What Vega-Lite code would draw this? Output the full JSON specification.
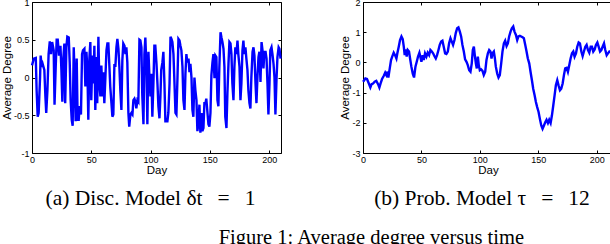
{
  "$schema": "https://vega.github.io/schema/vega-lite/v6.json",
  "background": "white",
  "padding": {"left": 0, "top": -3, "right": 0, "bottom": 0},
  "config": {
    "view": {"stroke": "black", "strokeWidth": 1},
    "font": "Liberation Sans",
    "axis": {
      "grid": false, "domain": false, "tickColor": "black", "tickSize": -3, "tickWidth": 1,
      "labelFont": "Liberation Sans", "labelFontSize": 9, "labelColor": "black",
      "titleFont": "Liberation Sans", "titleFontSize": 11.5, "titleFontWeight": "normal", "titleColor": "black",
      "labelFlush": false, "labelOverlap": false
    },
    "axisX": {"labelPadding": 5, "titlePadding": 0},
    "axisY": {"labelPadding": 6, "titlePadding": 1},
    "title": {"font": "Liberation Serif", "fontSize": 21.5, "fontWeight": "normal", "color": "black"},
    "concat": {"spacing": 53}
  },
  "title": {"text": "Figure 1: Average degree versus time", "orient": "bottom", "anchor": "middle", "offset": 18, "dx": 62, "fontSize": 20.5},
  "datasets": {
    "a": [
      {"day":0,"deg":0.16},{"day":1.5,"deg":0.25},{"day":3.2,"deg":0.26},{"day":3.9,"deg":-0.17},{"day":4.8,"deg":-0.52},{"day":5.6,"deg":-0.47},{"day":6.8,"deg":0},{"day":7.3,"deg":0.29},{"day":8.2,"deg":0.14},{"day":9,"deg":0.18},{"day":10.4,"deg":0.1},{"day":11.3,"deg":-0.25},{"day":12,"deg":-0.47},{"day":13,"deg":-0.17},{"day":14,"deg":0.31},{"day":15,"deg":0.48},{"day":16,"deg":0.31},{"day":17,"deg":0.47},{"day":18.3,"deg":0.36},{"day":19,"deg":-0.36},{"day":20,"deg":0.14},{"day":20.8,"deg":0.5},{"day":21.7,"deg":0.5},{"day":22.8,"deg":0.29},{"day":24,"deg":0.42},{"day":24.8,"deg":0.1},{"day":25.6,"deg":-0.32},{"day":26.4,"deg":0.25},{"day":27.3,"deg":0.45},{"day":28,"deg":-0.34},{"day":29,"deg":0.4},{"day":29.8,"deg":0.54},{"day":31,"deg":0.53},{"day":31.8,"deg":0.2},{"day":32.6,"deg":-0.3},{"day":33.5,"deg":-0.56},{"day":34.3,"deg":-0.64},{"day":35.2,"deg":0.4},{"day":36,"deg":0},{"day":36.8,"deg":-0.58},{"day":37.7,"deg":0.25},{"day":38.5,"deg":-0.56},{"day":39.4,"deg":-0.56},{"day":40.2,"deg":-0.38},{"day":41.3,"deg":-0.49},{"day":42.2,"deg":0.31},{"day":43,"deg":0.36},{"day":44.2,"deg":0.38},{"day":45,"deg":-0.12},{"day":45.9,"deg":0.34},{"day":46.7,"deg":0.12},{"day":47.5,"deg":-0.56},{"day":48.4,"deg":0.25},{"day":49.2,"deg":0.47},{"day":50,"deg":-0.3},{"day":51,"deg":0.29},{"day":51.8,"deg":-0.08},{"day":52.6,"deg":0.42},{"day":53.4,"deg":-0.43},{"day":54.3,"deg":0.27},{"day":55,"deg":-0.34},{"day":56,"deg":0.54},{"day":56.8,"deg":-0.08},{"day":57.7,"deg":-0.25},{"day":58.5,"deg":0.16},{"day":59.4,"deg":-0.25},{"day":60.2,"deg":0.07},{"day":61,"deg":-0.34},{"day":61.9,"deg":0},{"day":62.8,"deg":0.36},{"day":63.6,"deg":0.45},{"day":64.4,"deg":0.45},{"day":65.3,"deg":0.14},{"day":66,"deg":-0.12},{"day":67,"deg":-0.34},{"day":67.8,"deg":-0.52},{"day":68.6,"deg":-0.49},{"day":69.5,"deg":0.18},{"day":70.3,"deg":0.14},{"day":71.2,"deg":0.4},{"day":72,"deg":0.51},{"day":72.9,"deg":0.38},{"day":73.7,"deg":0.14},{"day":74.5,"deg":-0.17},{"day":75.4,"deg":-0.43},{"day":76.2,"deg":0.23},{"day":77,"deg":0.45},{"day":78,"deg":0.42},{"day":78.8,"deg":0.31},{"day":79.6,"deg":0.4},{"day":80.4,"deg":0.2},{"day":81.3,"deg":-0.47},{"day":82,"deg":-0.65},{"day":83,"deg":-0.49},{"day":83.8,"deg":-0.47},{"day":84.7,"deg":-0.49},{"day":85.5,"deg":-0.3},{"day":86.4,"deg":-0.28},{"day":87.2,"deg":-0.32},{"day":88,"deg":-0.41},{"day":88.9,"deg":-0.3},{"day":89.7,"deg":-0.32},{"day":90.6,"deg":0.5},{"day":91.4,"deg":0.49},{"day":92.3,"deg":0.4},{"day":93,"deg":-0.23},{"day":94,"deg":-0.62},{"day":94.8,"deg":0.31},{"day":95.6,"deg":0.53},{"day":96.5,"deg":0.14},{"day":97.3,"deg":-0.62},{"day":98.2,"deg":0.34},{"day":99,"deg":0.03},{"day":99.9,"deg":-0.25},{"day":100.7,"deg":0.05},{"day":101.5,"deg":-0.52},{"day":102.4,"deg":-0.08},{"day":103.2,"deg":0.42},{"day":104,"deg":0.42},{"day":105,"deg":0.18},{"day":105.8,"deg":-0.08},{"day":106.6,"deg":-0.38},{"day":107.5,"deg":-0.54},{"day":108.3,"deg":-0.25},{"day":109,"deg":0.1},{"day":110,"deg":0.2},{"day":110.8,"deg":0.34},{"day":111.7,"deg":-0.08},{"day":112.5,"deg":-0.58},{"day":113.4,"deg":-0.58},{"day":114.2,"deg":-0.58},{"day":115,"deg":-0.47},{"day":116,"deg":-0.08},{"day":116.8,"deg":0.54},{"day":117.6,"deg":0.51},{"day":118.4,"deg":0.47},{"day":119.3,"deg":0.31},{"day":120,"deg":0},{"day":121,"deg":-0.47},{"day":121.8,"deg":-0.49},{"day":122.7,"deg":0},{"day":123.5,"deg":0.51},{"day":124.4,"deg":0.49},{"day":125.2,"deg":0.42},{"day":126,"deg":0.36},{"day":126.9,"deg":0.14},{"day":127.7,"deg":-0.3},{"day":128.6,"deg":-0.43},{"day":129.4,"deg":0.05},{"day":130.2,"deg":0.31},{"day":131,"deg":0.2},{"day":132,"deg":0.25},{"day":132.8,"deg":0.07},{"day":133.6,"deg":0.18},{"day":134.5,"deg":0},{"day":135.3,"deg":-0.43},{"day":136.1,"deg":-0.52},{"day":137,"deg":0},{"day":137.8,"deg":-0.17},{"day":138.7,"deg":-0.3},{"day":139.5,"deg":-0.71},{"day":140.4,"deg":-0.6},{"day":141.2,"deg":-0.36},{"day":142,"deg":-0.73},{"day":143,"deg":-0.47},{"day":143.7,"deg":-0.71},{"day":144.6,"deg":-0.67},{"day":145.4,"deg":-0.34},{"day":146.3,"deg":-0.34},{"day":147,"deg":-0.28},{"day":148,"deg":-0.47},{"day":148.8,"deg":-0.62},{"day":149.6,"deg":-0.65},{"day":150.5,"deg":-0.47},{"day":151.3,"deg":0.03},{"day":152.2,"deg":0.2},{"day":153,"deg":0.31},{"day":153.9,"deg":-0.01},{"day":154.7,"deg":0.29},{"day":155.5,"deg":0.27},{"day":156.4,"deg":-0.3},{"day":157.2,"deg":-0.38},{"day":158,"deg":0.14},{"day":159,"deg":0.6},{"day":159.8,"deg":0.53},{"day":160.6,"deg":0.47},{"day":161.5,"deg":0.38},{"day":162.3,"deg":0.14},{"day":163,"deg":-0.52},{"day":164,"deg":-0.67},{"day":164.8,"deg":-0.21},{"day":165.7,"deg":0.18},{"day":166.5,"deg":0.47},{"day":167.4,"deg":0.45},{"day":168.2,"deg":0.31},{"day":169,"deg":-0.08},{"day":169.9,"deg":-0.3},{"day":170.7,"deg":0.14},{"day":171.5,"deg":0.4},{"day":172.4,"deg":0.31},{"day":173.3,"deg":0.49},{"day":174,"deg":0.31},{"day":175,"deg":0.14},{"day":175.8,"deg":-0.3},{"day":176.6,"deg":-0.08},{"day":177.5,"deg":0.36},{"day":178.3,"deg":0.49},{"day":179,"deg":0.31},{"day":180,"deg":0.4},{"day":180.8,"deg":0.25},{"day":181.7,"deg":0.1},{"day":182.5,"deg":-0.17},{"day":183.4,"deg":-0.34},{"day":184.2,"deg":-0.41},{"day":185,"deg":0},{"day":186,"deg":0.34},{"day":186.8,"deg":0.4},{"day":187.6,"deg":0.29},{"day":188.5,"deg":-0.08},{"day":189.3,"deg":-0.34},{"day":190.2,"deg":0.03},{"day":191,"deg":0.27},{"day":191.8,"deg":0.34},{"day":192.7,"deg":-0.06},{"day":193.6,"deg":0.47},{"day":194.4,"deg":0.36},{"day":195.2,"deg":0.12},{"day":196,"deg":0.34},{"day":197,"deg":0.34},{"day":197.8,"deg":0.25},{"day":198.6,"deg":-0.08},{"day":199.4,"deg":-0.49},{"day":200.3,"deg":-0.08},{"day":201,"deg":0.36},{"day":202,"deg":0.4},{"day":202.8,"deg":0.31},{"day":203.7,"deg":0.18},{"day":204.5,"deg":0},{"day":205.3,"deg":-0.49},{"day":206.2,"deg":-0.03},{"day":207,"deg":0.27},{"day":208,"deg":0.4},{"day":208.7,"deg":0.38},{"day":209.6,"deg":0.25}
    ],
    "b": [
      {"day":0,"deg":-0.64},{"day":0.9,"deg":-0.6},{"day":2,"deg":-0.53},{"day":3.4,"deg":-0.55},{"day":5,"deg":-0.7},{"day":6.3,"deg":-0.83},{"day":7.4,"deg":-0.72},{"day":8.6,"deg":-0.7},{"day":10,"deg":-0.64},{"day":11.4,"deg":-0.61},{"day":12.9,"deg":-0.72},{"day":14,"deg":-0.83},{"day":15,"deg":-0.7},{"day":16.3,"deg":-0.55},{"day":17.7,"deg":-0.45},{"day":19,"deg":-0.34},{"day":20,"deg":-0.42},{"day":21,"deg":-0.31},{"day":21.7,"deg":-0.5},{"day":22.9,"deg":-0.2},{"day":24,"deg":0.08},{"day":25,"deg":0.19},{"day":26.3,"deg":0.32},{"day":27.4,"deg":0.24},{"day":28.6,"deg":0.13},{"day":29.4,"deg":0.3},{"day":30.6,"deg":0.52},{"day":31.7,"deg":0.74},{"day":32.9,"deg":0.86},{"day":34,"deg":0.77},{"day":34.9,"deg":0.52},{"day":35.7,"deg":0.24},{"day":36.6,"deg":0.43},{"day":37.4,"deg":0.19},{"day":38.3,"deg":0.41},{"day":39.4,"deg":0.36},{"day":40.3,"deg":0.13},{"day":41.4,"deg":-0.14},{"day":42.6,"deg":-0.37},{"day":43.7,"deg":-0.5},{"day":44.9,"deg":-0.14},{"day":46,"deg":0.02},{"day":47.1,"deg":0.19},{"day":48.3,"deg":0.32},{"day":49.1,"deg":0.19},{"day":50,"deg":0.02},{"day":51.1,"deg":0.24},{"day":52,"deg":0.08},{"day":53.1,"deg":0.3},{"day":54.3,"deg":0.19},{"day":55.4,"deg":0.32},{"day":56.6,"deg":0.24},{"day":57.7,"deg":0.41},{"day":58.9,"deg":0.36},{"day":60,"deg":0.3},{"day":61.1,"deg":0.21},{"day":62.3,"deg":0.13},{"day":63.4,"deg":0.24},{"day":64.6,"deg":0.41},{"day":65.7,"deg":0.58},{"day":66.9,"deg":0.69},{"day":68,"deg":0.72},{"day":69.1,"deg":0.52},{"day":70.3,"deg":0.3},{"day":71.4,"deg":0.28},{"day":72.6,"deg":0.36},{"day":73.7,"deg":0.63},{"day":74.9,"deg":0.8},{"day":76,"deg":0.69},{"day":77.1,"deg":0.58},{"day":78.3,"deg":0.74},{"day":79.4,"deg":0.97},{"day":80.6,"deg":1.13},{"day":81.7,"deg":1.16},{"day":82.9,"deg":1.02},{"day":84,"deg":0.86},{"day":85.1,"deg":0.58},{"day":86.3,"deg":0.36},{"day":87.4,"deg":0.1},{"day":88.6,"deg":0.02},{"day":89.7,"deg":-0.09},{"day":90.9,"deg":-0.26},{"day":92,"deg":-0.31},{"day":93.1,"deg":-0.03},{"day":94,"deg":0.41},{"day":94.9,"deg":0.52},{"day":95.7,"deg":0.24},{"day":96.6,"deg":-0.03},{"day":97.4,"deg":-0.2},{"day":98.3,"deg":0.19},{"day":99.1,"deg":-0.09},{"day":100,"deg":-0.26},{"day":101.1,"deg":-0.23},{"day":102.3,"deg":-0.28},{"day":103.4,"deg":-0.42},{"day":104.6,"deg":-0.31},{"day":105.7,"deg":0.08},{"day":106.9,"deg":0.3},{"day":108,"deg":0.41},{"day":109.1,"deg":0.36},{"day":110,"deg":0.13},{"day":110.9,"deg":0.3},{"day":112,"deg":0.36},{"day":112.9,"deg":0.13},{"day":113.7,"deg":-0.14},{"day":114.9,"deg":-0.37},{"day":116,"deg":-0.5},{"day":117.1,"deg":-0.42},{"day":118.3,"deg":-0.03},{"day":119.4,"deg":0.36},{"day":120.6,"deg":0.63},{"day":121.7,"deg":0.72},{"day":122.9,"deg":0.54},{"day":124,"deg":0.63},{"day":125.1,"deg":0.86},{"day":126.3,"deg":1.02},{"day":127.4,"deg":1.13},{"day":128.6,"deg":1.19},{"day":129.7,"deg":1.02},{"day":130.9,"deg":0.91},{"day":132,"deg":0.74},{"day":133.1,"deg":0.86},{"day":134.3,"deg":0.88},{"day":135.4,"deg":0.86},{"day":136.6,"deg":0.83},{"day":137.7,"deg":0.8},{"day":138.9,"deg":0.58},{"day":140,"deg":0.36},{"day":141.1,"deg":0.13},{"day":142.3,"deg":-0.03},{"day":143.4,"deg":-0.31},{"day":144.6,"deg":-0.59},{"day":145.7,"deg":-0.87},{"day":146.9,"deg":-1.09},{"day":148,"deg":-1.31},{"day":149.1,"deg":-1.48},{"day":150.3,"deg":-1.64},{"day":151.4,"deg":-1.87},{"day":152.6,"deg":-2.09},{"day":153.7,"deg":-2.2},{"day":154.9,"deg":-2.09},{"day":156,"deg":-1.98},{"day":157.1,"deg":-1.9},{"day":158.3,"deg":-2.01},{"day":159.4,"deg":-1.9},{"day":160.6,"deg":-2.01},{"day":161.7,"deg":-1.76},{"day":162.9,"deg":-1.42},{"day":164,"deg":-1.09},{"day":165.1,"deg":-0.76},{"day":166.3,"deg":-0.59},{"day":167.4,"deg":-0.76},{"day":168.6,"deg":-0.92},{"day":169.7,"deg":-0.87},{"day":170.9,"deg":-0.7},{"day":172,"deg":-0.42},{"day":173.1,"deg":-0.2},{"day":174.3,"deg":-0.18},{"day":175.4,"deg":-0.31},{"day":176.6,"deg":-0.09},{"day":177.7,"deg":0.13},{"day":178.9,"deg":0.3},{"day":180,"deg":0.36},{"day":181.1,"deg":0.19},{"day":182.3,"deg":0.3},{"day":183.4,"deg":0.52},{"day":184.6,"deg":0.66},{"day":185.7,"deg":0.63},{"day":186.9,"deg":0.36},{"day":188,"deg":0.21},{"day":189.1,"deg":0.36},{"day":190.3,"deg":0.52},{"day":191.4,"deg":0.58},{"day":192.6,"deg":0.41},{"day":193.7,"deg":0.32},{"day":194.9,"deg":0.52},{"day":196,"deg":0.52},{"day":197.1,"deg":0.36},{"day":198.3,"deg":0.43},{"day":199.4,"deg":0.58},{"day":200.6,"deg":0.66},{"day":201.7,"deg":0.52},{"day":202.9,"deg":0.36},{"day":204,"deg":0.41},{"day":205.1,"deg":0.52},{"day":206.3,"deg":0.63},{"day":207.4,"deg":0.41},{"day":208.6,"deg":0.24},{"day":209.7,"deg":0.3},{"day":210.9,"deg":0.36},{"day":213.5,"deg":0.36}
    ]
  },
  "hconcat": [
    {
      "width": 249, "height": 151,
      "title": {"text": "(a) Disc. Model δt\u2002\u2009=\u2002\u20091", "orient": "bottom", "anchor": "middle", "frame": "group", "offset": 12, "dx": -6},
      "data": {"name": "a"},
      "layer": [
        {
          "mark": {"type": "line", "color": "#0000ff", "strokeWidth": 2.4},
          "encoding": {
            "x": {"field": "day", "type": "quantitative", "scale": {"domain": [0, 210], "nice": false, "zero": false},
                  "axis": {"values": [0, 50, 100, 150, 200], "title": "Day", "format": "d"}},
            "y": {"field": "deg", "type": "quantitative", "scale": {"domain": [-1, 1], "nice": false},
                  "axis": {"values": [-1, -0.5, 0, 0.5, 1], "title": "Average Degree", "labelExpr": "replace(format(datum.value, '~g'), '\u2212', '-')"}}
          }
        },
        {
          "mark": {"type": "line", "opacity": 0},
          "encoding": {
            "x": {"field": "day", "type": "quantitative", "axis": {"orient": "top", "labels": false, "title": null, "values": [0, 50, 100, 150, 200]}},
            "y": {"field": "deg", "type": "quantitative", "axis": {"orient": "right", "labels": false, "title": null, "values": [-1, -0.5, 0, 0.5, 1]}}
          }
        }
      ],
      "resolve": {"axis": {"x": "independent", "y": "independent"}}
    },
    {
      "width": 250, "height": 151,
      "title": {"text": "(b) Prob. Model τ\u2002\u2009=\u2002\u200912", "orient": "bottom", "anchor": "middle", "frame": "group", "offset": 12, "dx": -6},
      "data": {"name": "b"},
      "layer": [
        {
          "mark": {"type": "line", "color": "#0000ff", "strokeWidth": 2.4},
          "encoding": {
            "x": {"field": "day", "type": "quantitative", "scale": {"domain": [0, 214], "nice": false, "zero": false},
                  "axis": {"values": [0, 50, 100, 150, 200], "title": "Day", "format": "d"}},
            "y": {"field": "deg", "type": "quantitative", "scale": {"domain": [-3, 2], "nice": false},
                  "axis": {"values": [-3, -2, -1, 0, 1, 2], "title": "Average Degree", "labelExpr": "replace(format(datum.value, '~g'), '\u2212', '-')"}}
          }
        },
        {
          "mark": {"type": "line", "opacity": 0},
          "encoding": {
            "x": {"field": "day", "type": "quantitative", "axis": {"orient": "top", "labels": false, "title": null, "values": [0, 50, 100, 150, 200]}},
            "y": {"field": "deg", "type": "quantitative", "axis": {"orient": "right", "labels": false, "title": null, "values": [-3, -2, -1, 0, 1, 2]}}
          }
        }
      ],
      "resolve": {"axis": {"x": "independent", "y": "independent"}}
    }
  ]
}
